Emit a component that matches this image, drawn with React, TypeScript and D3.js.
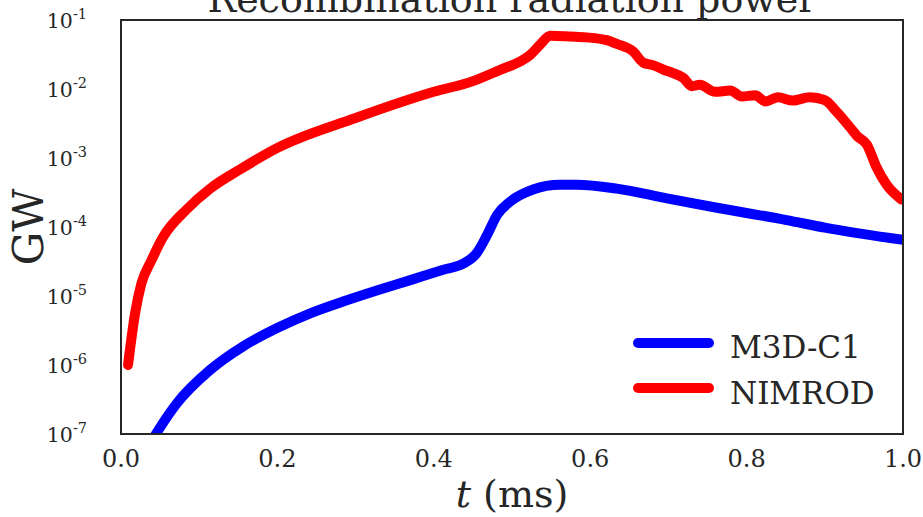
import React from "react";
import * as d3 from "d3";

const nimrodT = [0.009, 0.018, 0.026, 0.039, 0.054, 0.084, 0.114, 0.152, 0.2, 0.3, 0.4, 0.45, 0.485, 0.51, 0.523, 0.536, 0.549, 0.575, 0.595, 0.621, 0.634, 0.655, 0.668, 0.681, 0.694, 0.706, 0.719, 0.73, 0.74, 0.76, 0.779, 0.794, 0.811, 0.824, 0.84, 0.859, 0.881, 0.9, 0.915, 0.932, 0.941, 0.954, 0.966, 0.979, 0.998];
const nimrodV = [1.0e-6, 5.6e-6, 1.5e-5, 3.3e-5, 7.2e-5, 1.8e-4, 3.6e-4, 6.8e-4, 1.4e-3, 3.8e-3, 9.1e-3, 1.3e-2, 1.9e-2, 2.5e-2, 3.1e-2, 4.4e-2, 5.9e-2, 5.75e-2, 5.6e-2, 5.1e-2, 4.5e-2, 3.5e-2, 2.4e-2, 2.2e-2, 1.9e-2, 1.7e-2, 1.45e-2, 1.1e-2, 1.15e-2, 9.1e-3, 9.5e-3, 7.8e-3, 8.1e-3, 6.6e-3, 7.6e-3, 6.8e-3, 7.6e-3, 6.9e-3, 4.7e-3, 2.8e-3, 2.1e-3, 1.55e-3, 7.4e-4, 4.1e-4, 2.5e-4];

const m3dT = [0.038, 0.048, 0.071, 0.114, 0.156, 0.199, 0.242, 0.284, 0.327, 0.37, 0.412, 0.438, 0.455, 0.468, 0.481, 0.497, 0.527, 0.561, 0.583, 0.634, 0.698, 0.762, 0.851, 0.9, 1.0];
const m3dV = [7.5e-8, 1.15e-7, 2.75e-7, 8.5e-7, 1.86e-6, 3.4e-6, 5.6e-6, 8.3e-6, 1.2e-5, 1.7e-5, 2.4e-5, 2.95e-5, 4.2e-5, 7.6e-5, 1.5e-4, 2.3e-4, 3.5e-4, 4.1e-4, 4.1e-4, 3.6e-4, 2.6e-4, 1.9e-4, 1.26e-4, 9.8e-5, 6.5e-5];

const xTicks = [0, 0.2, 0.4, 0.6, 0.8, 1.0];
const yExponents = [-1, -2, -3, -4, -5, -6, -7];

const seriesNames = ["M3D-C1", "NIMROD"];
const seriesColors = ["#0000ff", "#ff0000"];

const W = 923, H = 517;
const L = 121, R = 903, T = 20, B = 434;
const TXT = "#262626";
const FONT = "'DejaVu Serif', serif";

export default function App() {
  const x = d3.scaleLinear().domain([0, 1]).range([L, R]);
  const y = d3.scaleLog().domain([1e-7, 1e-1]).range([B, T]);
  const line = d3
    .line<[number, number]>()
    .x((d) => x(d[0]))
    .y((d) => y(d[1]))
    .curve(d3.curveMonotoneX);
  const nimrod: [number, number][] = nimrodT.map((t, i) => [t, nimrodV[i]]);
  const m3d: [number, number][] = m3dT.map((t, i) => [t, m3dV[i]]);
  const series = [m3d, nimrod];

  return (
    <svg
      width={W}
      height={H}
      style={{ position: "absolute", left: 0, top: 0, background: "#fff" }}
      fontFamily={FONT}
    >
      <defs>
        <clipPath id="plotclip">
          <rect x={L} y={T} width={R - L} height={B - T} />
        </clipPath>
      </defs>
      <rect x={0} y={0} width={W} height={H} fill="#fff" />
      <text x={(L + R) / 2} y={12} textAnchor="middle" fontSize={38} fill={TXT}>
        Recombination radiation power
      </text>
      <g clipPath="url(#plotclip)">
        {series.map((s, i) => (
          <path
            key={seriesNames[i]}
            d={line(s) || ""}
            fill="none"
            stroke={seriesColors[i]}
            strokeWidth={10}
            strokeLinecap="round"
            strokeLinejoin="round"
          />
        ))}
      </g>
      <rect x={L} y={T} width={R - L} height={B - T} fill="none" stroke={TXT} strokeWidth={2} />
      {xTicks.map((t) => (
        <text key={t} x={x(t)} y={467} textAnchor="middle" fontSize={24} fill={TXT}>
          {t.toFixed(1)}
        </text>
      ))}
      {yExponents.map((e) => (
        <text key={e} x={87} y={y(Math.pow(10, e)) + 7.5} textAnchor="end" fontSize={20.5} fill={TXT}>
          10
          <tspan dy={-9} fontSize={14.5}>{"-" + Math.abs(e)}</tspan>
        </text>
      ))}
      <text
        transform={`translate(43, ${(T + B) / 2}) rotate(-90)`}
        textAnchor="middle"
        fontSize={42}
        fill={TXT}
      >
        GW
      </text>
      <text x={(L + R) / 2} y={507} textAnchor="middle" fontSize={38} fill={TXT}>
        <tspan fontStyle="italic">t</tspan> (ms)
      </text>
      {seriesNames.map((n, i) => (
        <g key={n}>
          <line
            x1={638}
            x2={709}
            y1={343 + i * 45}
            y2={343 + i * 45}
            stroke={seriesColors[i]}
            strokeWidth={10}
            strokeLinecap="round"
          />
          <text x={730} y={358 + i * 46} fontSize={31} fill={TXT}>
            {n}
          </text>
        </g>
      ))}
    </svg>
  );
}
